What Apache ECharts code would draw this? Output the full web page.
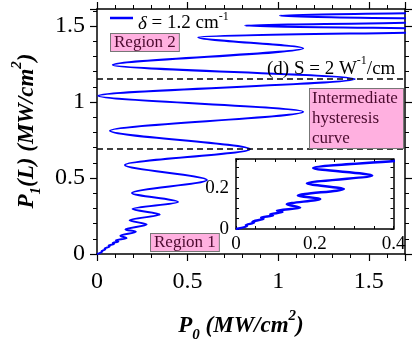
<!DOCTYPE html>
<html><head><meta charset="utf-8">
<script src="https://cdn.jsdelivr.net/npm/echarts@6/dist/echarts.min.js"></script>
<style>html,body{margin:0;padding:0;background:#fff}#c{width:415px;height:353px}</style>
</head><body><div id="c"></div>
<script>
// P0 (MW/cm^2) along the curve, in drawing order (turning points)
const p0 = [0, 0.028, 0.025, 0.046, 0.042, 0.070, 0.064, 0.094, 0.087, 0.118, 0.104,
  0.163, 0.129, 0.214, 0.157, 0.274, 0.180, 0.346, 0.196, 0.447, 0.193,
  0.607, 0.154, 0.844, 0.072, 1.138, 0.007, 1.423, 0.087, 1.138, 0.559,
  2.23, 0.816, 2.34, 1.009, 2.5, 1.3];
// P1(L) (MW/cm^2) along the curve
const p1 = [0, 0.014, 0.019, 0.031, 0.036, 0.050, 0.056, 0.066, 0.072, 0.082, 0.090,
  0.103, 0.120, 0.146, 0.162, 0.194, 0.222, 0.260, 0.296, 0.342, 0.401,
  0.487, 0.586, 0.689, 0.811, 0.936, 1.041, 1.151, 1.243, 1.353, 1.426,
  1.474, 1.503, 1.535, 1.568, 1.600, 1.66];
const thresholds = [0.689, 1.151];
const mainXTicks = [0, 0.5, 1, 1.5];
const mainYTicks = [0, 0.5, 1, 1.5];
const insetXTicks = [0, 0.2, 0.4];
const insetYTicks = [0, 0.2];
const seriesName = 'δ = 1.2 cm-1';

const curve = p0.map((x, i) => [x, p1[i]]);
const SERIF = '"Liberation Serif", "DejaVu Serif", serif';
const BLUE = '#0000ff';
const onlyTicks = list => v => list.some(t => Math.abs(t - v) < 1e-9) ? String(+v.toFixed(2)) : '';

function axisBase(extra) {
  return Object.assign({
    type: 'value',
    axisLine: {show: true, onZero: false, lineStyle: {color: '#000', width: 1.5}},
    splitLine: {show: false},
  }, extra);
}
const mainTick = {show: true, length: 7, lineStyle: {color: '#000', width: 1.2}};
const mainMinor = {show: true, splitNumber: 5, length: 4, lineStyle: {color: '#000', width: 1}};
const insetTick = {show: true, inside: true, length: 3, lineStyle: {color: '#000', width: 1}};
const insetMinor = {show: true, splitNumber: 4, length: 3, lineStyle: {color: '#000', width: 1}};

const chart = echarts.init(document.getElementById('c'), null, {renderer: 'canvas'});
chart.setOption({
  animation: false,
  backgroundColor: '#fff',
  grid: [
    {left: 97, top: 9, width: 308, height: 245},
    {left: 236, top: 159, width: 157.5, height: 70}
  ],
  legend: {
    data: [seriesName], left: 110, top: 3, padding: 0,
    icon: 'rect', itemWidth: 23, itemHeight: 2.5,
    formatter: () => '{i|δ}{t| = 1.2 cm}{s|-1}',
    textStyle: {
      color: '#000', fontFamily: SERIF, fontSize: 19,
      rich: {
        i: {fontFamily: SERIF, fontSize: 19, fontStyle: 'italic', lineHeight: 30, padding: [6, 0, 0, 0], verticalAlign: 'bottom', color: '#000'},
        t: {fontFamily: SERIF, fontSize: 19, lineHeight: 30, padding: [6, 0, 0, 0], verticalAlign: 'bottom', color: '#000'},
        s: {fontFamily: SERIF, fontSize: 12, lineHeight: 14, verticalAlign: 'top', padding: [8, 0, 0, 0], color: '#000'}
      }
    }
  },
  xAxis: [
    axisBase({gridIndex: 0, min: 0, max: 1.7, interval: 0.5, axisTick: mainTick, minorTick: mainMinor,
      axisLabel: {color: '#000', fontFamily: SERIF, fontSize: 24, margin: 16, formatter: onlyTicks(mainXTicks)}}),
    axisBase({gridIndex: 0, position: 'top', min: 0, max: 1.7, interval: 0.5, axisTick: mainTick, minorTick: mainMinor,
      axisLabel: {show: false}}),
    axisBase({gridIndex: 1, min: 0, max: 0.4, interval: 0.2, axisTick: insetTick, minorTick: insetMinor,
      axisLabel: {color: '#000', fontFamily: SERIF, fontSize: 19, margin: 6, formatter: onlyTicks(insetXTicks)}}),
    axisBase({gridIndex: 1, position: 'top', min: 0, max: 0.4, interval: 0.2, axisTick: insetTick, minorTick: insetMinor,
      axisLabel: {show: false}})
  ],
  yAxis: [
    axisBase({gridIndex: 0, min: 0, max: 1.612, interval: 0.5, axisTick: mainTick, minorTick: mainMinor,
      axisLabel: {color: '#000', fontFamily: SERIF, fontSize: 24, margin: 12, formatter: onlyTicks(mainYTicks)}}),
    axisBase({gridIndex: 0, position: 'right', min: 0, max: 1.612, interval: 0.5, axisTick: mainTick, minorTick: mainMinor,
      axisLabel: {show: false}}),
    axisBase({gridIndex: 1, min: 0, max: 0.34, interval: 0.2, axisTick: insetTick, minorTick: insetMinor,
      axisLabel: {color: '#000', fontFamily: SERIF, fontSize: 19, margin: 7, formatter: onlyTicks(insetYTicks)}}),
    axisBase({gridIndex: 1, position: 'right', min: 0, max: 0.34, interval: 0.2, axisTick: insetTick, minorTick: insetMinor,
      axisLabel: {show: false}})
  ],
  series: [
    {
      name: seriesName, type: 'line', xAxisIndex: 0, yAxisIndex: 0, data: curve,
      showSymbol: false, symbol: 'none', smooth: 0.3, smoothMonotone: 'y', clip: true,
      lineStyle: {color: BLUE, width: 2}, itemStyle: {color: BLUE},
      markLine: {
        silent: true, symbol: ['none', 'none'], label: {show: false},
        lineStyle: {color: '#000', width: 1.5, type: [6, 4]},
        data: thresholds.map(v => ({yAxis: v}))
      }
    },
    {
      name: 'inset', type: 'line', xAxisIndex: 2, yAxisIndex: 2, data: curve,
      showSymbol: false, symbol: 'none', smooth: 0.3, smoothMonotone: 'y', clip: true,
      lineStyle: {color: BLUE, width: 2.5}, itemStyle: {color: BLUE}
    }
  ],
  graphic: [
    {type: 'text', x: 27, y: 131, rotation: Math.PI / 2, style: {
      text: '{m|P}{b|1}{m|(L) (MW/cm}{p|2}{m|)}', align: 'center', verticalAlign: 'middle',
      rich: {
        m: {fontFamily: SERIF, fontSize: 23, fontWeight: 'bold', fontStyle: 'italic', lineHeight: 34, color: '#000'},
        b: {fontFamily: SERIF, fontSize: 15, fontWeight: 'bold', fontStyle: 'italic', lineHeight: 15, verticalAlign: 'bottom', color: '#000'},
        p: {fontFamily: SERIF, fontSize: 15, fontWeight: 'bold', fontStyle: 'italic', lineHeight: 15, verticalAlign: 'top', color: '#000'}
      }}},
    {type: 'text', x: 241, y: 326, style: {
      text: '{m|P}{b|0}{m| (MW/cm}{p|2}{m|)}', align: 'center', verticalAlign: 'middle',
      rich: {
        m: {fontFamily: SERIF, fontSize: 23, fontWeight: 'bold', fontStyle: 'italic', lineHeight: 34, color: '#000'},
        b: {fontFamily: SERIF, fontSize: 15, fontWeight: 'bold', fontStyle: 'italic', lineHeight: 15, verticalAlign: 'bottom', color: '#000'},
        p: {fontFamily: SERIF, fontSize: 15, fontWeight: 'bold', fontStyle: 'italic', lineHeight: 15, verticalAlign: 'top', color: '#000'}
      }}},
    {type: 'text', x: 111, y: 34, z: 10, style: {
      text: 'Region 2', fontFamily: SERIF, fontSize: 17, fill: '#4b0a2e',
      backgroundColor: '#ffb0e0', borderColor: '#777', borderWidth: 1, padding: [0, 3, 0, 3], lineHeight: 17}},
    {type: 'text', x: 151, y: 234, z: 10, style: {
      text: 'Region 1', fontFamily: SERIF, fontSize: 17, fill: '#4b0a2e',
      backgroundColor: '#ffb0e0', borderColor: '#777', borderWidth: 1, padding: [0, 3, 0, 3], lineHeight: 17}},
    {type: 'text', x: 310, y: 89, z: 10, style: {
      text: 'Intermediate \nhysteresis\ncurve', fontFamily: SERIF, fontSize: 17, fill: '#4b0a2e',
      backgroundColor: '#ffb0e0', borderColor: '#777', borderWidth: 1, padding: [0, 2, 0, 2], lineHeight: 19.7, width: 89}},
    {type: 'text', x: 267, y: 55, z: 10, style: {
      text: '{t|(d) S = 2 W}{s|-1}{t|/cm}',
      rich: {
        t: {fontFamily: SERIF, fontSize: 19, lineHeight: 24, verticalAlign: 'bottom', color: '#000'},
        s: {fontFamily: SERIF, fontSize: 12, lineHeight: 14, verticalAlign: 'top', color: '#000'}
      }}}
  ]
});
</script></body></html>
